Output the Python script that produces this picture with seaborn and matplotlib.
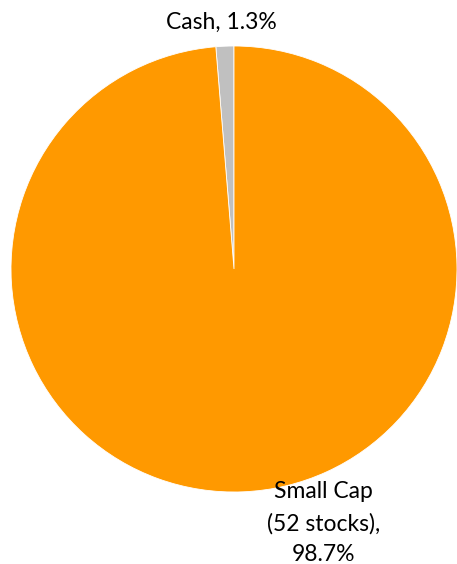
import matplotlib.pyplot as plt
import seaborn as sns

categories = ["Cash", "Small Cap"]
shares = [1.3, 98.7]
label_texts = ["Cash, 1.3%", "Small Cap\n(52 stocks),\n98.7%"]
colors = ["#c0c0c0", "#ff9900"]

sns.set_theme(style="white")
plt.rcParams['font.family'] = ['Lato', 'DejaVu Sans']

W, H = 457, 564
fig = plt.figure(figsize=(W / 100, H / 100), dpi=100)

# pie circle: centre (234, 269) px from top-left, radius 223 px
cx, cy, r = 234, 269, 223
ax = fig.add_axes([(cx - r) / W, (H - cy - r) / H, 2 * r / W, 2 * r / H])

wedges, texts = ax.pie(shares, labels=label_texts, colors=colors, startangle=90,
                       counterclock=True,
                       wedgeprops=dict(edgecolor="white", linewidth=0.6),
                       textprops=dict(fontsize=16.5, color="black"))
ax.set_xlim(-1, 1)
ax.set_ylim(-1, 1)
ax.set_aspect("equal")
ax.axis("off")

# label placement
texts[0].set_position((-0.056, 1.105))
texts[0].set_ha("center")
texts[0].set_va("center")
texts[1].set_position((0.40, -1.14))
texts[1].set_ha("center")
texts[1].set_va("center")
texts[1].set_multialignment("center")
texts[1].set_linespacing(1.6)
for t in texts:
    t.set_clip_on(False)

fig.savefig("out.png", dpi=100)
